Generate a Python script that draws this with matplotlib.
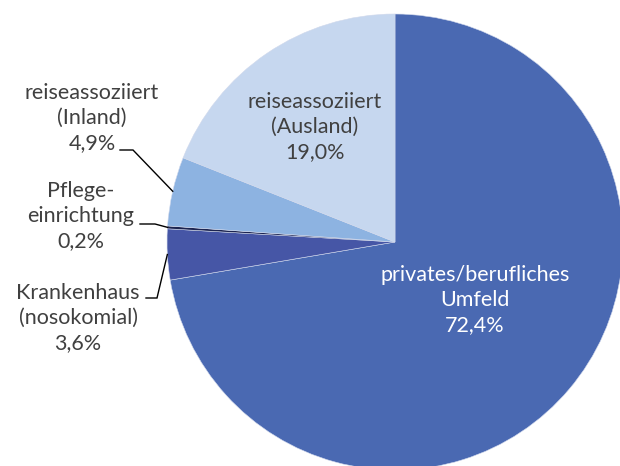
import numpy as np
import matplotlib
matplotlib.use("Agg")
import matplotlib.pyplot as plt

labels = ["privates/berufliches\nUmfeld", "Krankenhaus\n(nosokomial)", "Pflege-\neinrichtung",
          "reiseassoziiert\n(Inland)", "reiseassoziiert\n(Ausland)"]
values = [72.4, 3.6, 0.2, 4.9, 19.0]
colors = ["#4A69B2", "#4656A6", "#1C2450", "#8DB3E1", "#C6D7EF"]

plt.rcParams['font.family'] = ['Lato', 'DejaVu Sans']

W, H = 620, 466
fig = plt.figure(figsize=(W / 100, H / 100), dpi=100)
ax = fig.add_axes([0, 0, 1, 1])

cx, cy, r = 395, H - 242, 228
wedges, _ = ax.pie(values, colors=colors, startangle=90, counterclock=False,
                   center=(cx, cy), radius=r, frame=True,
                   wedgeprops=dict(edgecolor="#D0D8EC", linewidth=0.4))
ax.set_xlim(0, W)
ax.set_ylim(0, H)
ax.set_aspect('equal')
ax.axis('off')

def fmt(v):
    return f"{v:.1f}".replace(".", ",") + "%"

fs = 15.5
fw = "normal"
ls = 1.32
dark = "#404040"
# inside labels
ax.text(475, H - 300, f"{labels[0]}\n{fmt(values[0])}", ha="center", va="center",
        color="white", fontsize=fs, linespacing=ls, fontweight=fw)
ax.text(315, H - 127, f"{labels[4]}\n{fmt(values[4])}", ha="center", va="center",
        color=dark, fontsize=fs, linespacing=ls, fontweight=fw)

# outside labels with leader lines
outside = {
    3: ((92, 118), (120, 133, 150)),
    2: ((81, 216), (140, 155, 224)),
    1: ((78, 318), (146, 157, 298)),
}
for i, ((tx, ty), (x0, x1, ly)) in outside.items():
    ax.text(tx, H - ty, f"{labels[i]}\n{fmt(values[i])}", ha="center", va="center",
            color=dark, fontsize=fs, linespacing=ls, fontweight=fw)
    w = wedges[i]
    ang = np.deg2rad((w.theta1 + w.theta2) / 2)
    ex, ey = cx + r * np.cos(ang), cy + r * np.sin(ang)
    ax.plot([x0, x1, ex], [H - ly, H - ly, ey], color="black", lw=1.0,
            solid_joinstyle="miter")

fig.savefig("out.png", dpi=100)
